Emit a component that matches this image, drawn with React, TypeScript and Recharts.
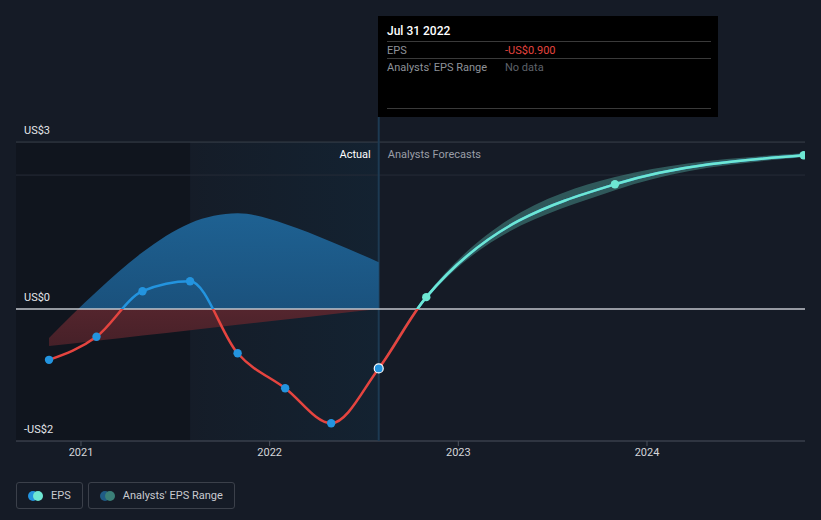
import React from 'react';
import { ComposedChart, Line, Area, XAxis, YAxis, ReferenceLine, ReferenceArea } from 'recharts';

// reported quarters
const actualDates = ['2020-10-31', '2021-01-31', '2021-04-30', '2021-07-31', '2021-10-31', '2022-01-31', '2022-04-30', '2022-07-31'];
const actualEps = [-0.77, -0.42, 0.27, 0.42, -0.67, -1.2, -1.73, -0.9];
const rangeLow = [-0.56, -0.48, -0.4, -0.32, -0.24, -0.16, -0.08, 0];
const rangeHigh = [-0.44, 0.26, 0.86, 1.3, 1.45, 1.29, 1.02, 0.71];

// analyst forecasts
const forecastDates = ['2022-10-31', '2023-10-31', '2024-10-31'];
const forecastEps = [0.18, 1.89, 2.33];
const forecastLow = [0.15, 1.8, 2.3];
const forecastHigh = [0.21, 2.0, 2.36];

const yearTicks = [2021, 2022, 2023, 2024];
const yTickValues = [2.53, 0, -2];
const yTickLabels = ['US$3', 'US$0', '-US$2'];
const headerLine = 2.03;

const BLUE = '#2394df';
const TEAL = '#6ee7d3';
const RED = '#e5443f';
const BG = '#151b26';
const FONT = 'Roboto, "Noto Sans", sans-serif';
const MONTHS = ['Jan', 'Feb', 'Mar', 'Apr', 'May', 'Jun', 'Jul', 'Aug', 'Sep', 'Oct', 'Nov', 'Dec'];

const toYear = (s: string) => {
  const d = new Date(s + 'T00:00:00Z');
  const y = d.getUTCFullYear();
  const start = Date.UTC(y, 0, 1);
  const end = Date.UTC(y + 1, 0, 1);
  return y + (d.getTime() - start) / (end - start);
};

const fmtDate = (s: string) => {
  const d = new Date(s + 'T00:00:00Z');
  return `${MONTHS[d.getUTCMonth()]} ${d.getUTCDate()} ${d.getUTCFullYear()}`;
};

const fmtUsd = (v: number) => `${v < 0 ? '-' : ''}US$${Math.abs(v).toFixed(3)}`;

const actualData = actualDates.map((d, i) => ({
  t: toYear(d),
  eps: actualEps[i],
  range: [rangeLow[i], rangeHigh[i]],
  kind: 'actual',
}));
const forecastData = forecastDates.map((d, i) => ({
  t: toYear(d),
  eps: forecastEps[i],
  band: [forecastLow[i], forecastHigh[i]],
  kind: 'forecast',
}));
const epsData = [...actualData, ...forecastData];
const overlayData = epsData.slice(actualData.length - 2);
const lastActual = actualData[actualData.length - 1];
// the range band grows out of the last reported value
const bandData = [{ t: lastActual.t, band: [lastActual.eps, lastActual.eps] }, ...forecastData];

const zeroOffset = (vals: number[]) => {
  const max = Math.max(...vals);
  const min = Math.min(...vals);
  return max / (max - min);
};
const epsZero = zeroOffset(epsData.map((d) => d.eps));
const overlayZero = zeroOffset(overlayData.map((d) => d.eps));
const rangeZero = zeroOffset([...rangeLow, ...rangeHigh]);

const X_DOMAIN: [number, number] = [2020.6555, 2024.8375];
const Y_DOMAIN: [number, number] = [-2, 2.91];

const renderDot = (which: string) => (props: any) => {
  const { cx, cy, payload, index } = props;
  const key = `${which}-${index}`;
  if (!payload || payload.kind !== which || cx == null) return <g key={key} />;
  const isLast = payload.t === lastActual.t;
  return (
    <circle
      key={key}
      cx={cx}
      cy={cy}
      r={isLast ? 4.5 : 4.2}
      fill={which === 'actual' ? BLUE : TEAL}
      stroke={isLast ? '#fff' : 'none'}
      strokeWidth={1.2}
    />
  );
};

const yLabel = (text: string) => (p: any) => {
  const { x, y } = p.viewBox;
  return (
    <text x={x + 8} y={y - 8} fill="#e4e6ea" fontSize={11} fontFamily={FONT}>
      {text}
    </text>
  );
};

const splitLabel = (p: any) => {
  const { x, y } = p.viewBox;
  return (
    <g fontFamily={FONT} fontSize={11}>
      <text x={x - 8} y={y + 41} fill="#ffffff" textAnchor="end">Actual</text>
      <text x={x + 9} y={y + 41} fill="#9a9ea6">Analysts Forecasts</text>
    </g>
  );
};

const legendBox: React.CSSProperties = {
  height: 25,
  border: '1px solid #3b404a',
  borderRadius: 3,
  display: 'flex',
  alignItems: 'center',
  padding: '0 11px',
  color: '#c8cad0',
  fontSize: 11,
  gap: 8,
};

const Dots = ({ a, b }: { a: string; b: string }) => (
  <svg width={15} height={10}>
    <circle cx={5} cy={5} r={5} fill={a} />
    <circle cx={10} cy={5} r={5} fill={b} />
  </svg>
);

const tipRow: React.CSSProperties = {
  position: 'absolute',
  left: 9,
  right: 7,
  height: 16,
  borderTop: '1px solid #3a3a3a',
  display: 'flex',
  alignItems: 'center',
  fontSize: 11,
};

export default function App() {
  return (
    <div style={{ position: 'absolute', left: 0, top: 0, width: 821, height: 520, background: BG, fontFamily: FONT }}>
      <ComposedChart width={821} height={520} data={epsData} margin={{ top: 117, right: 16, bottom: 49, left: 16 }}>
        <defs>
          <linearGradient id="epsStroke" x1="0" y1="0" x2="0" y2="1">
            <stop offset={epsZero} stopColor={BLUE} />
            <stop offset={epsZero} stopColor={RED} />
          </linearGradient>
          <linearGradient id="overlayStroke" x1="0" y1="0" x2="0" y2="1">
            <stop offset={overlayZero} stopColor={TEAL} />
            <stop offset={overlayZero} stopColor={TEAL} stopOpacity={0} />
          </linearGradient>
          <linearGradient id="rangeFill" x1="0" y1="0" x2="0" y2="1">
            <stop offset={0} stopColor="#1f679b" />
            <stop offset={rangeZero} stopColor="#1b5684" />
            <stop offset={rangeZero} stopColor="#5a262e" />
            <stop offset={1} stopColor="#4a2129" />
          </linearGradient>
          <linearGradient id="recentTint" x1="0" y1="0" x2="1" y2="0">
            <stop offset={0} stopColor="#065c8a" stopOpacity={0.04} />
            <stop offset={1} stopColor="#065c8a" stopOpacity={0.22} />
          </linearGradient>
        </defs>

        <XAxis
          dataKey="t"
          type="number"
          domain={X_DOMAIN}
          allowDataOverflow
          ticks={yearTicks}
          tickFormatter={(v) => String(v)}
          axisLine={false}
          tickLine={{ stroke: '#4b515c' }}
          tickSize={5}
          tick={{ fill: '#d4d6da', fontSize: 11, fontFamily: FONT }}
          height={30}
        />
        <YAxis type="number" domain={Y_DOMAIN} allowDataOverflow hide />

        <ReferenceArea x1={X_DOMAIN[0]} x2={actualData[3].t} y1={-2} y2={yTickValues[0]} fill="#000" fillOpacity={0.2} stroke="none" zIndex={-90} />
        <ReferenceArea x1={actualData[3].t} x2={lastActual.t} y1={-2} y2={yTickValues[0]} fill="url(#recentTint)" stroke="none" zIndex={-90} />
        <ReferenceLine x={lastActual.t} stroke="#1d3a52" strokeWidth={2} label={splitLabel} zIndex={-70} />

        <ReferenceLine y={yTickValues[0]} stroke="#3a404b" label={yLabel(yTickLabels[0])} zIndex={-80} />
        <ReferenceLine y={headerLine} stroke="#262c37" zIndex={-80} />
        <ReferenceLine y={yTickValues[2]} stroke="#4b515c" label={yLabel(yTickLabels[2])} zIndex={-80} />

        <Area data={actualData} dataKey="range" type="monotone" stroke="none" fill="url(#rangeFill)" fillOpacity={0.92} isAnimationActive={false} />
        <Area data={bandData} dataKey="band" type="monotone" stroke="none" fill={TEAL} fillOpacity={0.3} isAnimationActive={false} />

        <ReferenceLine y={yTickValues[1]} stroke="#c2c6cc" strokeWidth={1.5} label={yLabel(yTickLabels[1])} zIndex={150} />

        <Line
          data={epsData}
          dataKey="eps"
          type="monotone"
          stroke="url(#epsStroke)"
          strokeWidth={2.5}
          dot={renderDot('actual')}
          activeDot={false}
          isAnimationActive={false}
        />
        <Line
          data={overlayData}
          dataKey="eps"
          type="monotone"
          stroke="url(#overlayStroke)"
          strokeWidth={2.5}
          dot={renderDot('forecast')}
          activeDot={false}
          isAnimationActive={false}
        />
      </ComposedChart>

      <div style={{ position: 'absolute', left: 378, top: 16, width: 340, height: 101, background: '#000', color: '#fff' }}>
        <div style={{ position: 'absolute', left: 9, top: 8, fontSize: 12, fontWeight: 500 }}>{fmtDate(actualDates[actualDates.length - 1])}</div>
        <div style={{ ...tipRow, top: 25 }}>
          <span style={{ width: 118, color: '#8e9299' }}>EPS</span>
          <span style={{ color: RED }}>{fmtUsd(lastActual.eps)}</span>
        </div>
        <div style={{ ...tipRow, top: 42 }}>
          <span style={{ width: 118, color: '#8e9299' }}>Analysts' EPS Range</span>
          <span style={{ color: '#5e626a' }}>No data</span>
        </div>
        <div style={{ position: 'absolute', left: 9, right: 7, top: 92, borderTop: '1px solid #3a3a3a' }} />
      </div>

      <div style={{ position: 'absolute', left: 16, top: 482, display: 'flex', gap: 5 }}>
        <div style={legendBox}>
          <Dots a={BLUE} b={TEAL} />
          <span>EPS</span>
        </div>
        <div style={legendBox}>
          <Dots a="#1f5b85" b="#3a7f77" />
          <span>Analysts' EPS Range</span>
        </div>
      </div>
    </div>
  );
}
